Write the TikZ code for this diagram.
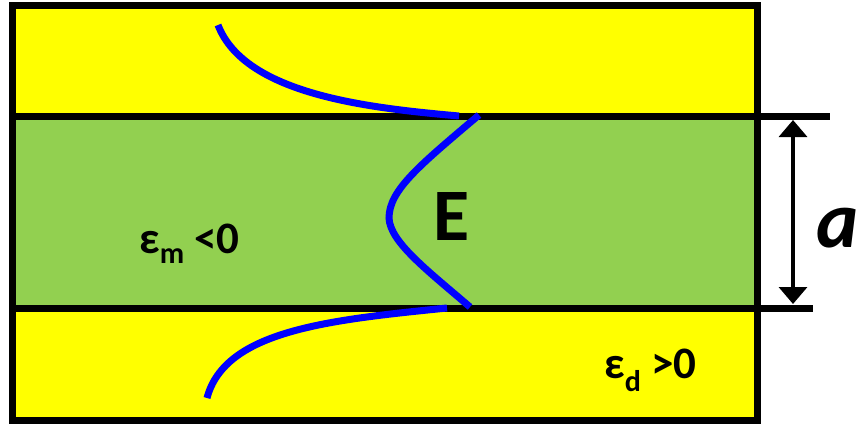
\documentclass[tikz,border=0pt]{standalone}
\usepackage{fontspec}
\setmainfont{Carlito}
\usetikzlibrary{arrows.meta}
\definecolor{lgreen}{RGB}{146,208,80}
\definecolor{lyellow}{RGB}{255,255,0}
\newcommand{\lowsub}[2]{\raisebox{-#1pt}{\fontsize{30}{33}\selectfont #2}}

\begin{document}
\begin{tikzpicture}[
  layer/.style={draw=black,line width=7pt},
  field/.style={blue,line width=7pt},
  dim/.style={{Triangle[width=28pt,length=17pt]}-{Triangle[width=28pt,length=17pt]},line width=3.5pt},
  lbl/.style={inner sep=0pt,font=\bfseries\fontsize{45}{50}\selectfont},
  x=1pt,y=-1pt
]
  \useasboundingbox (0,0) rectangle (858,424);
  % the three layers
  \foreach \ya/\yb/\c in {5/116/lyellow,116/308/lgreen,308/420/lyellow}
    \fill[\c] (12,\ya) rectangle (757,\yb);
  \draw[layer] (12,5) rectangle (757,420);
  \coordinate (tl) at (12,116);
  \coordinate (tr) at (830,116);
  \coordinate (bl) at (12,308);
  \coordinate (br) at (813,308);
  \draw[layer] (tl)--(tr);
  \draw[layer] (bl)--(br);
  % thickness a
  \coordinate (ta) at (793,120);
  \coordinate (ba) at (793,304);
  \draw[dim] (ta)--(ba);
  \node[inner sep=0pt,anchor=base,font=\bfseries\itshape\fontsize{80}{84}\selectfont] (a) at (838,247) {a};
  % field profile
  \draw[field] (218,25) .. controls (245,95) and (370,108) .. (459,116);
  \draw[field] (479,115) .. controls (420,165) and (389,190) .. (389,218)
               .. controls (390,242) and (427,270) .. (470,307);
  \draw[field] (447,308) .. controls (330,320) and (225,330) .. (207,398);
  \node[inner sep=0pt,anchor=base,font=\bfseries\fontsize{74}{80}\selectfont] (E) at (452,240) {E};
  % permittivities
  \node[lbl,anchor=base west] (em) at (139,253) {ε\lowsub{10}{m} <0};
  \node[lbl,anchor=base west] (ed) at (604,378) {ε\lowsub{13}{d} >0};
\end{tikzpicture}
\end{document}
